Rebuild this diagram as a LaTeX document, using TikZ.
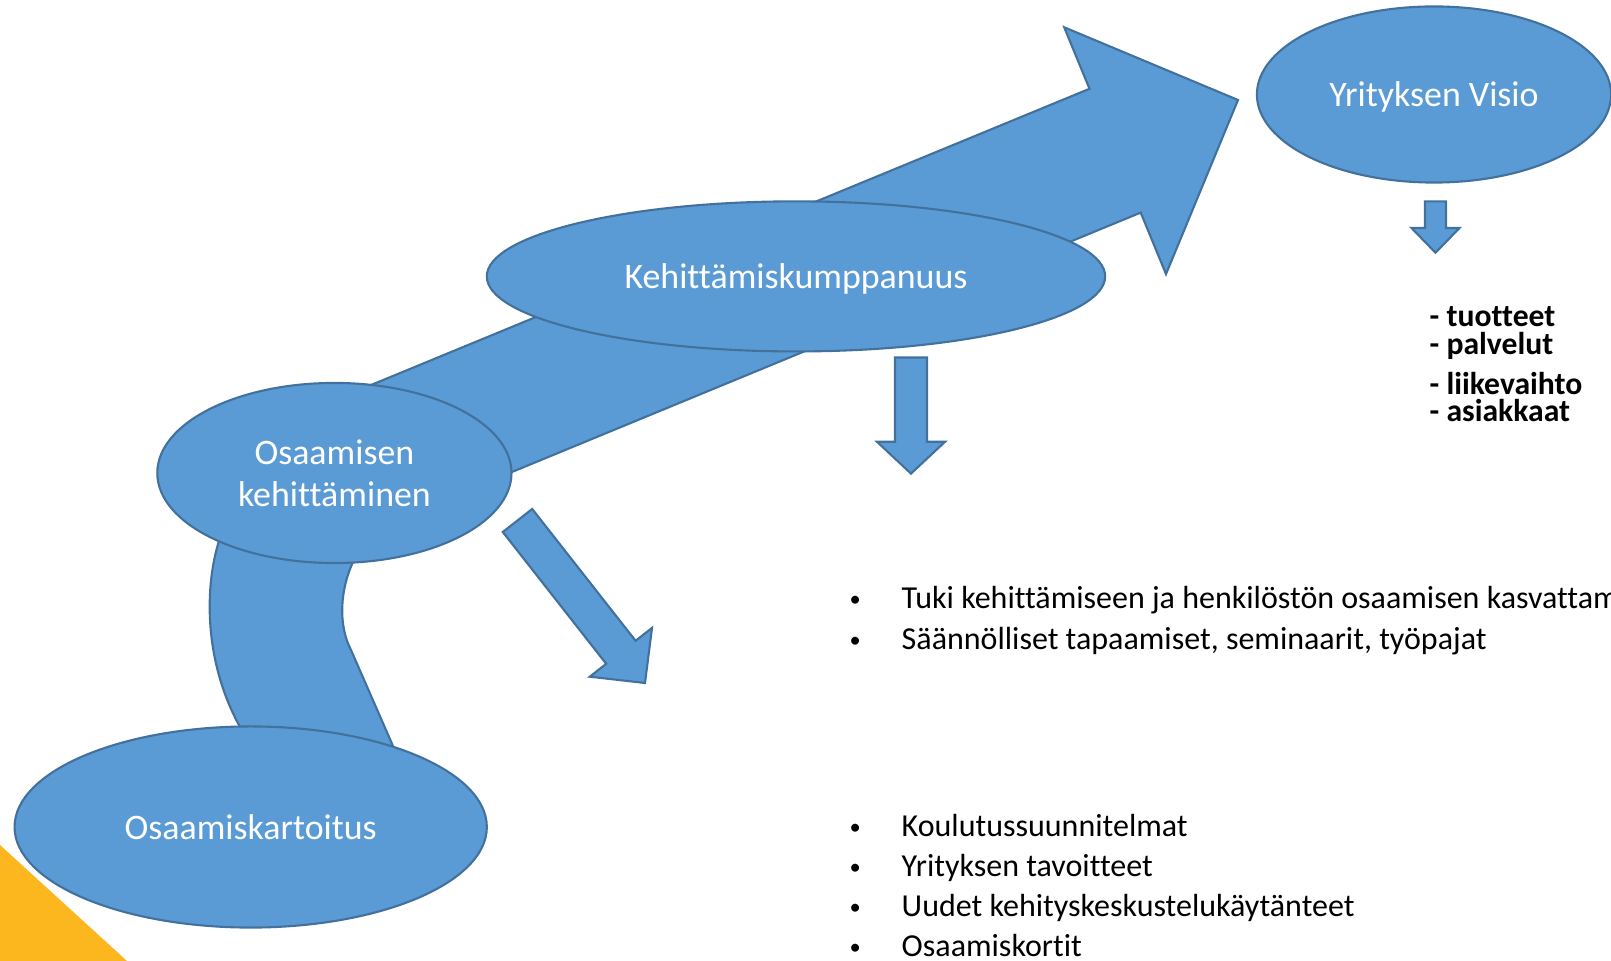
\documentclass[tikz,border=0pt]{standalone}
\usepackage{fontspec}
\setmainfont{Carlito}[Ligatures={TeX,NoCommon,NoContextual},Contextuals=NoAlternate]
\usepackage{tikz}
\usetikzlibrary{shapes.geometric}

\definecolor{blobblue}{RGB}{91,155,213}
\definecolor{blobline}{RGB}{65,113,156}
\definecolor{cornergold}{RGB}{253,183,30}

\tikzset{
  blob/.style={ellipse, fill=blobblue, draw=blobline, line width=0.6pt, inner sep=0pt,
    text=white, align=center, text depth=0pt, font=\fontsize{10.2}{11.95}\selectfont},
  blockarrow/.style={fill=blobblue, draw=blobline, line width=0.6pt, line join=miter},
  bullettext/.style={anchor=base west, inner sep=0pt, font=\fontsize{9.1}{10.9}\selectfont},
  resulttext/.style={anchor=base west, inner sep=0pt, font=\fontsize{9}{10}\selectfont\bfseries}
}
\newcommand{\bul}{\makebox[0.52cm][l]{\raisebox{0.08em}{\scalebox{0.7}{\textbullet}}}}

\begin{document}
\begin{tikzpicture}[x=0.01cm, y=-0.01cm]
        \useasboundingbox (0,0) rectangle (1611,961);
        \fill[white] (0,0) rectangle (1611,961);
        % yellow corner bottom left
        \fill[cornergold] (0,845) -- (127,961) -- (0,961) -- cycle;
        % big arrow up to the vision
        \draw[blockarrow] (325,404) -- (1089.5,88.8) -- (1064.2,27.3) -- (1238,100)
            -- (1166,274.1) -- (1140.7,212.6) -- (376.2,528) -- cycle;
        % band between the two lower ellipses
        \draw[blockarrow] (224,515) -- (219,541) .. controls (205,585) and (203,660) .. (240,727)
            -- (246,765) -- (400,765) -- (393,746) -- (351,650)
            .. controls (338,625) and (340,590) .. (353,562) -- (356,515) -- cycle;
        % the four ellipses
        \node[blob, minimum width=3.54cm, minimum height=1.76cm] (vision) at (1434,94.5) {Yrityksen Visio};
        \node[blob, minimum width=6.18cm, minimum height=1.5cm] (kumppanuus) at (796,276.4) {Kehittämiskumppanuus};
        \node[blob, minimum width=3.54cm, minimum height=1.8cm] (osaamisen) at (334.4,473) {Osaamisen\\kehittäminen};
        \node[blob, minimum width=4.72cm, minimum height=2.01cm] (kartoitus) at (250.7,827) {Osaamiskartoitus};
        % small arrow below the vision
        \draw[blockarrow] (1425,201.4) -- (1446,201.4) -- (1446,228) -- (1459.5,228)
            -- (1435.5,252.7) -- (1411.5,228) -- (1425,228) -- cycle;
        % small arrow below the partnership
        \draw[blockarrow] (895,357.5) -- (927,357.5) -- (927,441.8) -- (945,441.8)
            -- (911,473.6) -- (877,441.8) -- (895,441.8) -- cycle;
        % slanted arrow from the competence ellipse
        \draw[blockarrow] (532.2,509) -- (635.6,640.8) -- (652,627.9) -- (645,683)
            -- (589.8,676.7) -- (606.2,663.8) -- (502.8,532) -- cycle;
        % results of the vision
        \node[resulttext] (tuotteet) at (1429,327) {- tuotteet};
        \node[resulttext] (palvelut) at (1429,355) {- palvelut};
        \node[resulttext] (liikevaihto) at (1429,395) {- liikevaihto};
        \node[resulttext] (asiakkaat) at (1429,422) {- asiakkaat};
        % bullets of the partnership
        \node[bullettext] (tuki) at (849,609) {\bul Tuki kehittämiseen ja henkilöstön osaamisen kasvattam};
        \node[bullettext] (tapaamiset) at (849,650) {\bul Säännölliset tapaamiset, seminaarit, työpajat};
        % bullets of the mapping
        \node[bullettext] (koulutus) at (849,837) {\bul Koulutussuunnitelmat};
        \node[bullettext] (tavoitteet) at (849,877) {\bul Yrityksen tavoitteet};
        \node[bullettext] (keskustelu) at (849,917) {\bul Uudet kehityskeskustelukäytänteet};
        \node[bullettext] (kortit) at (849,957) {\bul Osaamiskortit};
\end{tikzpicture}
\end{document}
